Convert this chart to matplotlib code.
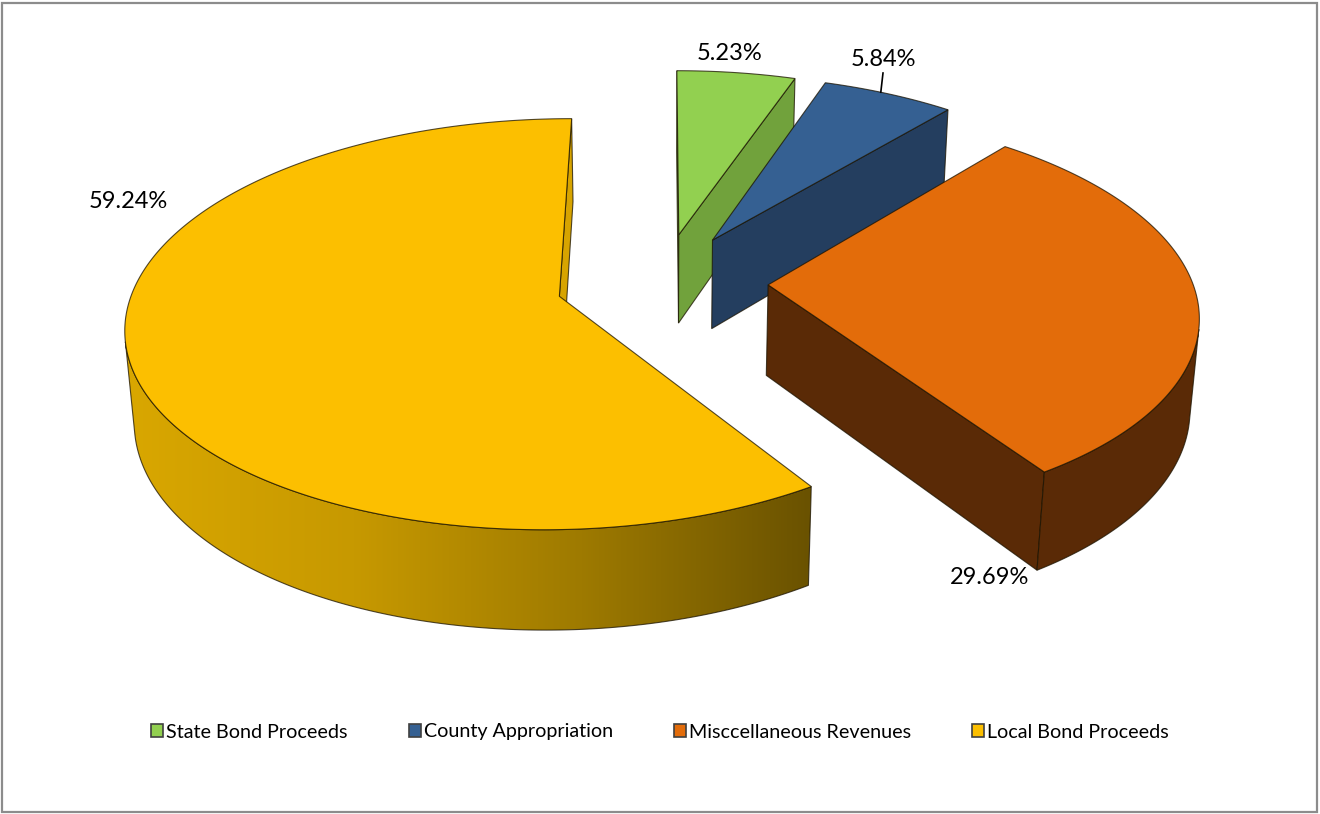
import numpy as np
import matplotlib
matplotlib.use('Agg')
import matplotlib.pyplot as plt
from matplotlib.patches import Polygon, Patch, Rectangle
from matplotlib.colors import LinearSegmentedColormap

# revenue sources and their share of the total (percent)
categories = ['State Bond Proceeds', 'County Appropriation',
              'Misccellaneous Revenues', 'Local Bond Proceeds']
shares = [5.23, 5.84, 29.69, 59.24]
pct_labels = ['5.23%', '5.84%', '29.69%', '59.24%']

top_colors = ['#92D050', '#356092', '#E36C0A', '#FCBF00']
side_colors = ['#71A23C', '#243E5F', '#5A2A06', '#D7A400']
# front wall of the big slice gets a light-to-dark shading
yellow_wall = ['#D9A700', '#C79900', '#9E7A00', '#6A5200']

# where the percent labels sit (pixels)
label_pos = [(730, 54), (883, 60), (990, 578), (128, 201)]

# 3d look of the pie
TILT = np.radians(27.8)
DIST = 6.58
FOCAL = 2792.0
CX, CY = 662.0, 282.0
THICK = 0.245
EXPLODE = 0.25

W, H = 1320, 814
fig = plt.figure(figsize=(W / 100, H / 100), dpi=100)
ax = fig.add_axes([0, 0, 1, 1])
ax.set_xlim(0, W)
ax.set_ylim(H, 0)
ax.axis('off')

cam = np.array([0.0, -DIST * np.cos(TILT), DIST * np.sin(TILT)])


def project(x, y, z):
    x, y, z = np.asarray(x, float), np.asarray(y, float), np.asarray(z, float)
    depth = DIST + y * np.cos(TILT) - z * np.sin(TILT)
    up = y * np.sin(TILT) + z * np.cos(TILT)
    return np.column_stack([CX + FOCAL * x / depth, CY - FOCAL * up / depth])


def facing(normal, point):
    return np.dot(normal, cam - point) > 0


def rim(ox, oy, t, z):
    return project(ox + np.sin(t), oy + np.cos(t), np.full_like(t, z))


edge = (0.1, 0.07, 0.0, 0.75)

# slice angles, clockwise from 12 o'clock
bounds = np.concatenate([[0], np.cumsum(shares)]) / sum(shares) * 2 * np.pi
slices = []
for i in range(len(shares)):
    a0, a1 = bounds[i], bounds[i + 1]
    mid = (a0 + a1) / 2
    slices.append((i, a0, a1, EXPLODE * np.sin(mid), EXPLODE * np.cos(mid)))

# paint far slices first
slices.sort(key=lambda s: -s[4])
z = 1
for i, a0, a1, ox, oy in slices:
    apex = np.array([ox, oy, 0.0])
    # flat cut faces
    for ang, nrm in ((a0, np.array([-np.cos(a0), np.sin(a0), 0])),
                     (a1, np.array([np.cos(a1), -np.sin(a1), 0]))):
        out = np.array([ox + np.sin(ang), oy + np.cos(ang), 0.0])
        centre = (apex + out) / 2 - [0, 0, THICK / 2]
        if facing(nrm, centre):
            pts = project([ox, out[0], out[0], ox], [oy, out[1], out[1], oy],
                          [0, 0, -THICK, -THICK])
            ax.add_patch(Polygon(pts, closed=True, facecolor=side_colors[i],
                                 edgecolor=edge, lw=0.8, zorder=z))
            z += 1
    # curved outer wall
    t = np.linspace(a0, a1, 400)
    px, py = ox + np.sin(t), oy + np.cos(t)
    vis = np.sin(t) * (cam[0] - px) + np.cos(t) * (cam[1] - py) > 0
    runs, cur = [], []
    for k in range(len(t)):
        if vis[k]:
            cur.append(k)
        elif cur:
            runs.append(cur)
            cur = []
    if cur:
        runs.append(cur)
    for run in runs:
        tt = t[run]
        pts = np.vstack([rim(ox, oy, tt, 0), rim(ox, oy, tt[::-1], -THICK)])
        if i == 3:
            wall = Polygon(pts, closed=True, facecolor='none', edgecolor=edge,
                           lw=0.8, zorder=z + 1)
            ax.add_patch(wall)
            cmap = LinearSegmentedColormap.from_list('wall', yellow_wall)
            x0, x1 = pts[:, 0].min(), pts[:, 0].max()
            y0, y1 = pts[:, 1].min(), pts[:, 1].max()
            im = ax.imshow(np.linspace(0, 1, 256)[None, :], cmap=cmap,
                           extent=(x0, x1, y1, y0), aspect='auto', zorder=z)
            im.set_clip_path(wall)
            z += 2
        else:
            ax.add_patch(Polygon(pts, closed=True, facecolor=side_colors[i],
                                 edgecolor=edge, lw=0.8, zorder=z))
            z += 1
    # top face
    top = np.vstack([project([ox], [oy], [0]), rim(ox, oy, t, 0)])
    ax.add_patch(Polygon(top, closed=True, facecolor=top_colors[i],
                         edgecolor=edge, lw=0.8, zorder=z))
    z += 1

ax.set_xlim(0, W)
ax.set_ylim(H, 0)

for i, (lx, ly) in enumerate(label_pos):
    ax.text(lx, ly, pct_labels[i], fontsize=17, family='Lato',
            ha='center', va='center', color='black', zorder=50)

# leader line for the County Appropriation label
lead_t = np.radians(28.0)
mid_b = (bounds[1] + bounds[2]) / 2
p = rim(EXPLODE * np.sin(mid_b), EXPLODE * np.cos(mid_b), np.array([lead_t]), 0)[0]
ax.plot([p[0], label_pos[1][0]], [p[1], label_pos[1][1] + 13], color='black',
        lw=1.2, zorder=50)

handles = [Patch(facecolor=c, edgecolor='#404040', lw=1.2) for c in top_colors]
fig.legend(handles, categories, loc='center', bbox_to_anchor=(660 / W, 1 - 732 / H),
           ncol=4, frameon=False, prop={'family': 'Lato', 'size': 14.2},
           handlelength=0.6, handleheight=0.6, handletextpad=0.15,
           columnspacing=3.1, borderpad=0)

fig.add_artist(Rectangle((2 / W, 2 / H), (W - 5) / W, (H - 5) / H,
                         transform=fig.transFigure, fill=False,
                         edgecolor='#8C8C8C', lw=1.6))

fig.savefig('out.png', dpi=100)
